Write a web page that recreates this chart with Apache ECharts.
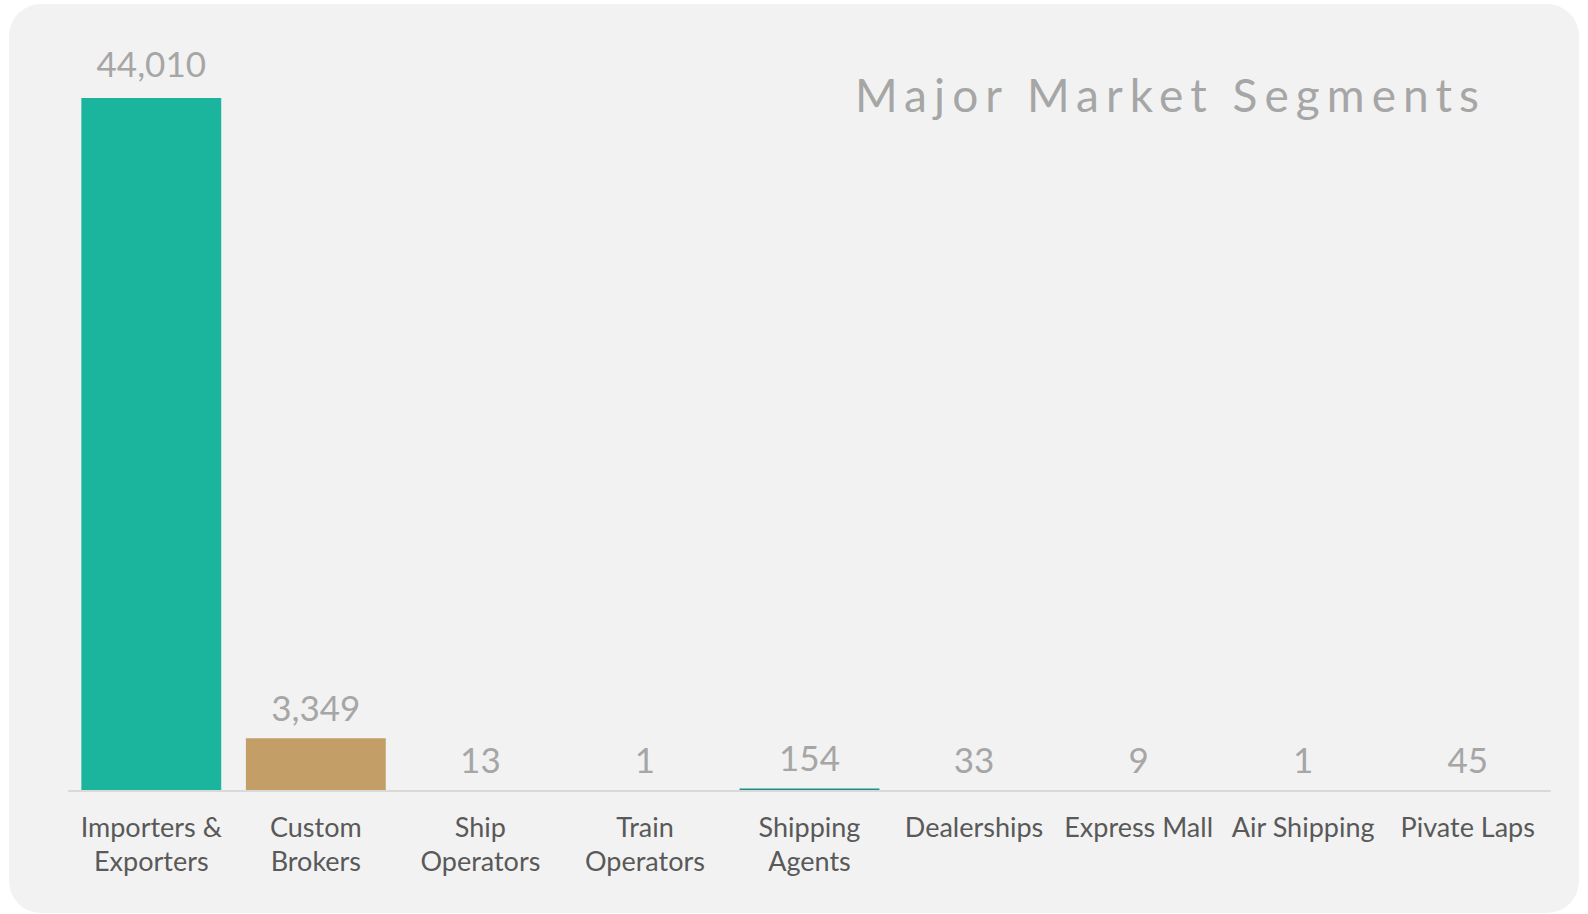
<!DOCTYPE html>
<html>
<head>
<meta charset="utf-8">
<script src="https://cdn.jsdelivr.net/npm/echarts@6/dist/echarts.min.js"></script>
<style>
html,body{margin:0;padding:0;background:#ffffff;}
#chart{width:1588px;height:914px;}
</style>
</head>
<body>
<div id="chart"></div>
<script>
var categories = ["Importers &\nExporters", "Custom\nBrokers", "Ship\nOperators", "Train\nOperators", "Shipping\nAgents", "Dealerships", "Express Mall", "Air Shipping", "Pivate Laps"];
var values = [44010, 3349, 13, 1, 154, 33, 9, 1, 45];
var barColors = ["#1bb49c", "#c39e66", "#1bb49c", "#1bb49c", "#1c8f86", "#1bb49c", "#1bb49c", "#1bb49c", "#1bb49c"];
var titleText = "Major Market Segments";

var FONT = "Lato, 'Open Sans', sans-serif";
var chart = echarts.init(document.getElementById('chart'), null, {renderer: 'svg'});

var option = {
  animation: false,
  backgroundColor: '#ffffff',
  graphic: [{
    type: 'rect',
    silent: true,
    z: -10,
    shape: {x: 9, y: 4, width: 1570, height: 909, r: 32},
    style: {fill: '#f2f2f2'}
  }],
  title: {
    text: titleText,
    left: 850,
    top: 66,
    textStyle: {fontFamily: FONT, fontSize: 46, fontWeight: 'normal', color: '#a6a6a6'}
  },
  grid: {left: 69, right: 38, top: 98, bottom: 123, containLabel: false},
  xAxis: {
    type: 'category',
    data: categories,
    z: 5,
    axisTick: {show: false},
    axisLine: {show: true, lineStyle: {color: '#d9d9d9', width: 2}},
    axisLabel: {
      interval: 0,
      margin: 18,
      fontFamily: FONT,
      fontSize: 27,
      lineHeight: 34,
      color: '#595959'
    }
  },
  yAxis: {
    type: 'value',
    min: 0,
    max: 44010,
    show: false,
    splitLine: {show: false}
  },
  series: [{
    type: 'bar',
    barCategoryGap: '15%',
    data: values.map(function (v, i) {
      var item = {value: v, itemStyle: {color: barColors[i]}};
      if (i === 0) { item.label = {distance: 18}; }
      return item;
    }),
    label: {
      show: true,
      position: 'top',
      distance: 14,
      fontFamily: FONT,
      fontSize: 35,
      lineHeight: 35,
      color: '#a6a6a6',
      formatter: function (p) { return p.value.toLocaleString('en-US'); }
    }
  }]
};
chart.setOption(option);

function spaceTitle() {
  var texts = document.querySelectorAll('#chart svg text');
  var c = document.createElement('canvas').getContext('2d');
  c.font = "46px " + FONT;
  var w = c.measureText(titleText).width;
  var target = 625;
  var sp = (target - w) / (titleText.length - 1);
  texts.forEach(function (t) {
    if (t.textContent === titleText) {
      t.setAttribute('letter-spacing', sp.toFixed(2) + 'px');
      t.style.letterSpacing = sp.toFixed(2) + 'px';
    }
  });
}
spaceTitle();
chart.on('finished', spaceTitle);
</script>
</body>
</html>
